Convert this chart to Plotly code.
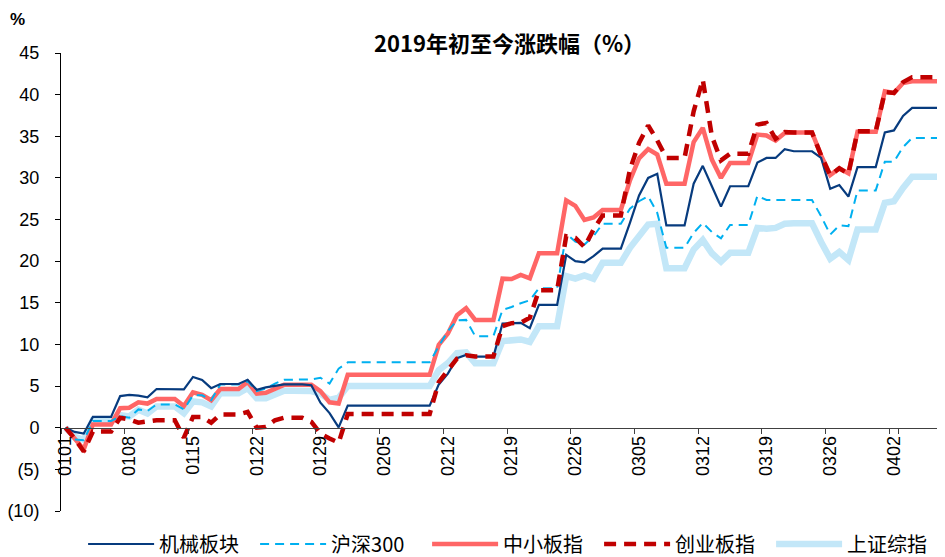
import pandas as pd
import plotly.graph_objects as go

# calendar days 2019-01-01 .. 2019-04-07 (non-trading days carry the previous close)
dates = pd.date_range("2019-01-01", "2019-04-07").strftime("%m%d").tolist()
tick_labels = ["0101", "0108", "0115", "0122", "0129", "0205", "0212",
               "0219", "0226", "0305", "0312", "0319", "0326", "0402"]
y_tick_vals = [-10, -5, 0, 5, 10, 15, 20, 25, 30, 35, 40, 45]
y_tick_text = ["(10)", "(5)", "0", "5", "10", "15", "20", "25", "30", "35", "40", "45"]

machinery = [
    # Jan
    0, -0.5, -0.7, 1.3, 1.3, 1.3, 3.8, 3.95, 3.85, 3.65, 4.65, 4.65, 4.65, 4.6, 6.1, 5.75,
    4.75, 5.25, 5.25, 5.25, 5.75, 4.55, 4.85, 5.0, 5.2, 5.2, 5.2, 5.1, 3.0, 1.75, 0.05,
    # Feb
    2.65, 2.65, 2.65, 2.65, 2.65, 2.65, 2.65, 2.65, 2.65, 2.65, 5.2, 6.5, 8.35, 8.75,
    8.55, 8.55, 8.55, 12.5, 12.55, 12.6, 11.95, 14.75, 14.75, 14.75, 20.75, 20.0, 19.85, 20.6,
    # Mar
    21.5, 21.5, 21.5, 24.6, 27.9, 30.0, 30.5, 24.3, 24.3, 24.3, 29.3, 31.45, 29.0, 26.55,
    29.0, 29.0, 29.0, 31.85, 32.4, 32.4, 33.45, 33.2, 33.2, 33.2, 32.4, 28.7, 29.15, 27.75,
    31.3, 31.3, 31.3,
    # Apr
    35.45, 35.7, 37.45, 38.4, 38.4, 38.4, 38.4,
]

hs300 = [
    0, -1.4, -1.5, 0.8, 0.8, 0.8, 1.4, 1.2, 2.2, 2.0, 2.8, 2.8, 2.8, 2.2, 3.9, 3.9,
    3.3, 5.2, 5.2, 5.2, 5.6, 4.4, 4.7, 5.3, 5.75, 5.75, 5.75, 5.8, 6.0, 5.3, 7.1,
    7.85, 7.85, 7.85, 7.85, 7.85, 7.85, 7.85, 7.85, 7.85, 7.85, 9.8, 11.6, 12.9, 12.95,
    11.0, 11.0, 11.0, 14.15, 14.5, 14.95, 15.3, 16.75, 16.75, 16.75, 23.3, 22.35, 22.0, 23.0,
    24.5, 24.5, 24.5, 26.3, 27.2, 27.8, 25.8, 21.6, 21.6, 21.6, 23.4, 24.6, 23.5, 22.75,
    24.35, 24.35, 24.35, 27.85, 27.35, 27.35, 27.35, 27.35, 27.35, 27.35, 25.4, 23.2, 24.3, 24.2,
    28.5, 28.5, 28.5,
    31.95, 31.95, 33.7, 34.8, 34.8, 34.8, 34.8,
]

sme = [
    0, -1.3, -2.6, 0.4, 0.4, 0.4, 2.35, 2.4, 3.05, 2.9, 3.45, 3.45, 3.45, 2.6, 4.25, 3.95,
    3.3, 4.65, 4.65, 4.65, 5.5, 4.1, 4.2, 4.75, 5.15, 5.15, 5.15, 5.15, 4.4, 3.05, 2.9,
    6.35, 6.35, 6.35, 6.35, 6.35, 6.35, 6.35, 6.35, 6.35, 6.35, 9.95, 11.3, 13.5, 14.35,
    12.95, 12.95, 12.95, 17.9, 17.85, 18.35, 17.95, 20.95, 20.95, 20.95, 27.3, 26.65, 24.95, 25.25,
    26.15, 26.15, 26.15, 29.7, 32.35, 33.45, 32.8, 29.3, 29.3, 29.3, 34.3, 36.0, 32.2, 30.0,
    31.8, 31.8, 31.8, 35.2, 35.1, 34.5, 35.4, 35.45, 35.45, 35.45, 32.7, 30.35, 31.15, 30.55,
    35.55, 35.55, 35.55,
    40.4, 40.2, 41.4, 41.6, 41.6, 41.6, 41.6,
]

chinext = [
    0, -1.3, -2.85, -0.45, -0.45, -0.45, 1.2, 1.0, 0.6, 0.75, 0.9, 0.9, 0.9, -1.2, 1.3, 1.3,
    0.6, 1.6, 1.6, 1.6, 1.9, 0.0, 0.1, 0.9, 1.2, 1.2, 1.2, 0.7, -0.7, -1.3, -1.8,
    1.65, 1.65, 1.65, 1.65, 1.65, 1.65, 1.65, 1.65, 1.65, 1.65, 5.5, 6.8, 8.3, 8.7,
    8.55, 8.55, 8.55, 12.2, 12.55, 12.6, 13.2, 16.5, 16.5, 16.5, 23.0, 22.8, 21.7, 23.8,
    25.5, 25.5, 25.5, 31.0, 34.2, 36.3, 34.5, 32.4, 32.4, 32.4, 38.0, 41.8, 35.0, 32.1,
    32.9, 32.9, 32.9, 36.4, 36.6, 34.7, 35.5, 35.45, 35.45, 35.45, 32.7, 30.3, 31.15, 30.5,
    35.6, 35.6, 35.6,
    40.3, 40.2, 41.5, 42.1, 42.1, 42.1, 42.1,
]

sse = [
    0, -1.1, -1.45, 0.9, 0.9, 0.9, 1.5, 1.35, 2.15, 1.7, 2.55, 2.55, 2.55, 1.75, 3.15, 3.05,
    2.55, 4.15, 4.15, 4.15, 4.75, 3.55, 3.55, 4.1, 4.45, 4.45, 4.45, 4.4, 4.1, 3.35, 3.6,
    5.0, 5.0, 5.0, 5.0, 5.0, 5.0, 5.0, 5.0, 5.0, 5.0, 6.9, 7.75, 8.95, 9.05,
    7.75, 7.75, 7.75, 10.4, 10.5, 10.6, 10.3, 12.2, 12.2, 12.2, 18.2, 17.9, 18.3, 17.9,
    19.8, 19.8, 19.8, 21.6, 22.9, 24.4, 24.5, 19.15, 19.15, 19.15, 21.4, 22.55, 20.95, 19.95,
    21.0, 21.0, 21.0, 24.0, 23.9, 24.0, 24.5, 24.55, 24.55, 24.55, 22.3, 20.3, 21.1, 20.15,
    23.8, 23.8, 23.8,
    27.0, 27.2, 28.8, 30.15, 30.15, 30.15, 30.15,
]

FONT = "Liberation Sans, Arial, Noto Sans CJK SC, sans-serif"
CJK = "Noto Sans CJK SC, Liberation Sans, sans-serif"

fig = go.Figure()
# drawing order (bottom -> top); legend order set via legendrank
fig.add_trace(go.Scatter(x=dates, y=sse, name="上证综指", mode="lines",
                         line=dict(color="#C3E7F8", width=6.5), legendrank=5))
fig.add_trace(go.Scatter(x=dates, y=sme, name="中小板指", mode="lines",
                         line=dict(color="#FF6666", width=4.5), legendrank=3))
fig.add_trace(go.Scatter(x=dates, y=hs300, name="沪深300", mode="lines",
                         line=dict(color="#00B0F0", width=2, dash="9px,6px"), legendrank=2))
fig.add_trace(go.Scatter(x=dates, y=machinery, name="机械板块", mode="lines",
                         line=dict(color="#073B7E", width=2.2), legendrank=1))
fig.add_trace(go.Scatter(x=dates, y=chinext, name="创业板指", mode="lines",
                         line=dict(color="#C00000", width=4.5, dash="12px,8px"), legendrank=4))

# page body adds an 8px offset, so the figure is 8px smaller than the window
fig.update_layout(
    width=937, height=549,
    margin=dict(l=53, r=1, t=45, b=46, autoexpand=False),
    paper_bgcolor="white", plot_bgcolor="white",
    font=dict(family=FONT, size=18, color="#000000"),
    showlegend=True,
    legend=dict(orientation="h", x=0.512, xanchor="center", y=-0.072, yanchor="middle",
                font=dict(family=CJK, size=20, color="#000000"),
                itemwidth=66, entrywidth=91, entrywidthmode="pixels",
                traceorder="normal", bgcolor="rgba(0,0,0,0)"),
    xaxis=dict(type="category", range=[-0.5, len(dates) - 0.5], automargin=False,
               anchor="free", position=10 / 55,
               showline=True, linecolor="#404040", linewidth=1,
               ticks="outside", ticklen=5, tickcolor="#404040", tickson="boundaries",
               tickmode="array", tickvals=tick_labels, ticktext=tick_labels,
               tickangle=-90, showgrid=False, zeroline=False,
               tickfont=dict(family=FONT, size=18, color="#000000")),
    yaxis=dict(range=[-10, 45], tickmode="array", tickvals=y_tick_vals, ticktext=y_tick_text,
               automargin=False, ticklabelstandoff=12,
               showline=True, linecolor="#000000", linewidth=1,
               ticks="outside", ticklen=5, tickcolor="#000000",
               showgrid=False, zeroline=False,
               tickfont=dict(family=FONT, size=18, color="#000000")),
    annotations=[
        dict(text="<b>2019年初至今涨跌幅（%）</b>", xref="paper", yref="paper",
             x=0.508, y=1.0, xanchor="center", yanchor="middle", yshift=11, showarrow=False,
             font=dict(family=CJK, size=22, color="#000000")),
        dict(text="<b>%</b>", xref="paper", yref="paper", x=-0.049, y=1.0,
             xanchor="center", yanchor="middle", yshift=34, showarrow=False,
             font=dict(family=FONT, size=17, color="#000000")),
    ],
)

fig.write_html("out.html")
